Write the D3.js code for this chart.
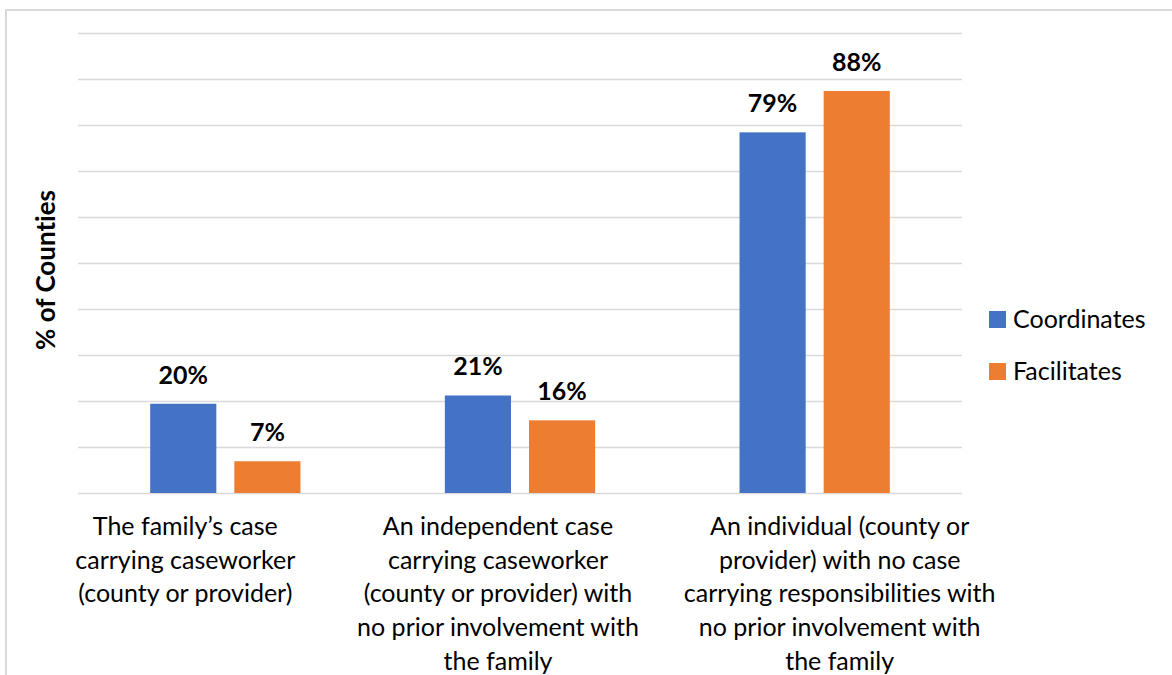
<!doctype html>
<html>
<head>
<meta charset="UTF-8">
<title>% of Counties</title>
<script src="https://d3js.org/d3.v7.min.js"></script>
<style>
  body { margin: 0; background: #fff; }
  text { font-family: Lato, "Noto Sans", sans-serif; fill: #000; font-variant-ligatures: none; }
</style>
</head>
<body>
<script>
// ---- data ----
var categories = [
  ["The family\u2019s case", "carrying caseworker", "(county or provider)"],
  ["An independent case", "carrying caseworker", "(county or provider) with", "no prior involvement with", "the family"],
  ["An individual (county or", "provider) with no case", "carrying responsibilities with", "no prior involvement with", "the family"]
];
var seriesNames = ["Coordinates", "Facilitates"];
var coordinates = [19.4, 21.2, 78.4];
var facilitates = [6.9, 15.8, 87.4];
var coordinatesLabels = ["20%", "21%", "79%"];
var facilitatesLabels = ["7%", "16%", "88%"];
var yTicks = [0, 10, 20, 30, 40, 50, 60, 70, 80, 90, 100];

var colors = { Coordinates: "#4472C4", Facilitates: "#ED7D31" };

// ---- layout ----
// (don't call these top/left etc, window.top is read only)
var W = 1172, H = 675;
var plotL = 78, plotR = 962, plotT = 33, plotB = 493;

var svg = d3.select("body").append("svg")
  .attr("width", W).attr("height", H);

svg.append("rect").attr("width", W).attr("height", H).attr("fill", "#fff");

// chart border (bottom / right run off the picture)
svg.append("rect")
  .attr("x", 6).attr("y", 10)
  .attr("width", 1190).attr("height", 700)
  .attr("fill", "none").attr("stroke", "#d9d9d9").attr("stroke-width", 2);

var x0 = d3.scaleBand().domain(d3.range(categories.length))
  .range([plotL, plotR]).paddingInner(0.49).paddingOuter(0.245);
var x1 = d3.scaleBand().domain(seriesNames)
  .range([0, x0.bandwidth()]).paddingInner(0.214);
var y = d3.scaleLinear().domain([0, 100]).range([plotB, plotT]);

// gridlines
var grid = svg.append("g")
  .attr("transform", "translate(" + plotL + ",0)")
  .call(d3.axisLeft(y).tickValues(yTicks).tickSize(-(plotR - plotL)).tickFormat(""));
grid.select(".domain").remove();
grid.selectAll("line").attr("stroke", "#d9d9d9").attr("stroke-width", 1.3);

// bars
var rows = categories.map(function (c, i) {
  return [
    { key: "Coordinates", v: coordinates[i], label: coordinatesLabels[i] },
    { key: "Facilitates", v: facilitates[i], label: facilitatesLabels[i] }
  ];
});

var groups = svg.selectAll("g.grp").data(rows).enter().append("g")
  .attr("class", "grp")
  .attr("transform", function (d, i) { return "translate(" + x0(i) + ",0)"; });

groups.selectAll("rect").data(function (d) { return d; }).enter().append("rect")
  .attr("x", function (d) { return x1(d.key); })
  .attr("y", function (d) { return y(d.v); })
  .attr("width", x1.bandwidth())
  .attr("height", function (d) { return y(0) - y(d.v); })
  .attr("fill", function (d) { return colors[d.key]; });

groups.selectAll("text").data(function (d) { return d; }).enter().append("text")
  .attr("x", function (d) { return x1(d.key) + x1.bandwidth() / 2; })
  .attr("y", function (d) { return y(d.v) - 20; })
  .attr("text-anchor", "middle")
  .style("font-size", "25px").style("font-weight", "bold")
  .text(function (d) { return d.label; });

// category labels (Excel placed them slightly off the band centres)
var labelNudge = [-40, -22, 25];
var catLabels = svg.selectAll("text.cat").data(categories).enter().append("text")
  .attr("class", "cat")
  .attr("text-anchor", "middle")
  .style("font-size", "25px");
catLabels.each(function (lines, i) {
  var t = d3.select(this);
  var cx = x0(i) + x0.bandwidth() / 2 + labelNudge[i];
  lines.forEach(function (ln, j) {
    t.append("tspan").attr("x", cx).attr("y", 535 + j * 33.7).text(ln);
  });
});

// y axis title
svg.append("text")
  .attr("transform", "translate(55," + ((plotT + plotB) / 2 + 7) + ") rotate(-90)")
  .attr("text-anchor", "middle")
  .style("font-size", "26px").style("font-weight", "bold")
  .text("% of Counties");

// legend
var legend = svg.selectAll("g.leg").data(seriesNames).enter().append("g")
  .attr("class", "leg")
  .attr("transform", function (d, i) { return "translate(989," + (311 + i * 52) + ")"; });
legend.append("rect").attr("width", 17).attr("height", 17)
  .attr("fill", function (d) { return colors[d]; });
legend.append("text").attr("x", 24).attr("y", 17)
  .style("font-size", "25px")
  .text(function (d) { return d; });
</script>
</body>
</html>
